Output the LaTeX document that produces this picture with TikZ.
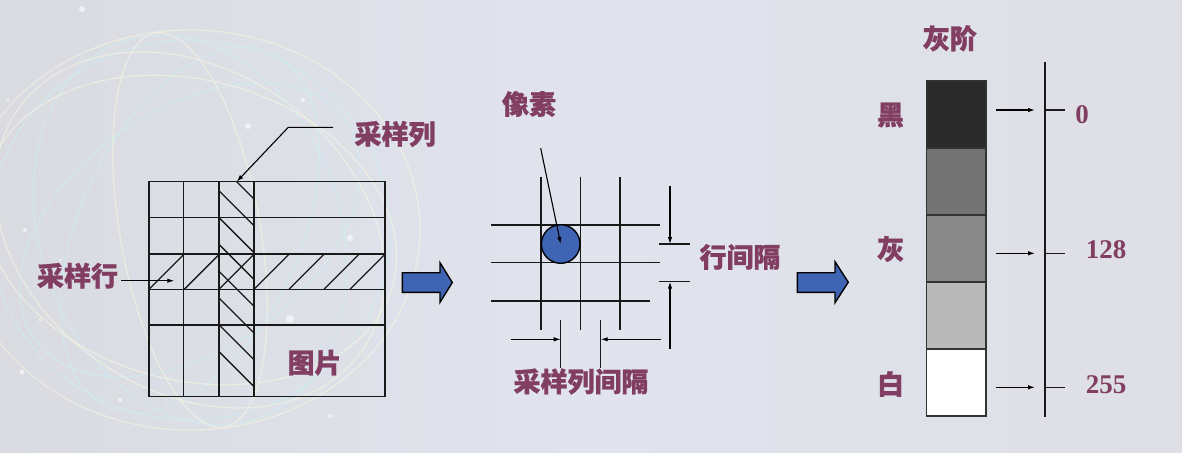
\documentclass[tikz,border=0pt]{standalone}
\usepackage{fontspec}
\usetikzlibrary{arrows.meta}
\newfontfamily\cjk{Noto Sans CJK SC}[BoldFeatures={FakeBold=0.8}]
\newfontfamily\numfont{Liberation Serif}
\definecolor{labelcol}{HTML}{823E62}
\definecolor{arrowblue}{HTML}{3F64B4}
\definecolor{bgleft}{HTML}{D9DBE1}
\definecolor{bgmid}{HTML}{E1E4ED}
\definecolor{bgright}{HTML}{DEDFE5}
\definecolor{decocyan}{HTML}{CDEFF2}
\definecolor{decocream}{HTML}{F6F6E0}
\definecolor{g0}{HTML}{2A2A2A}
\definecolor{g1}{HTML}{737373}
\definecolor{g2}{HTML}{8A8A8A}
\definecolor{g3}{HTML}{B9B9B9}
\definecolor{g4}{HTML}{FFFFFF}
\begin{document}
\begin{tikzpicture}[x=1pt,y=-1pt,
  lbl/.style={text=labelcol, font=\cjk\bfseries\fontsize{27}{30}\selectfont, inner sep=0pt},
  num/.style={text=labelcol, font=\numfont\bfseries\fontsize{27}{30}\selectfont, inner sep=0pt},
  gridline/.style={line width=1.5pt, draw=black!90},
  hatch/.style={line width=1.3pt, draw=black!90},
  ptr/.style={line width=1.1pt, -{Latex[length=7pt,width=4.5pt]}},
  bluearrow/.style={fill=arrowblue, draw=black, line width=1.4pt, line join=miter},
  cell/.style={draw=black!80, line width=1.5pt},
  deco/.style={line width=1.2pt, opacity=0.6},
]
\useasboundingbox (0,0) rectangle (1182,452);

% background
\shade[left color=bgleft, right color=bgright, middle color=bgmid] (0,0) rectangle (1182,452);
\begin{scope}
  \clip (0,0) rectangle (1182,452);
  \foreach \rx/\ry/\rot/\c in {200/190/0/decocyan, 150/200/20/decocyan, 110/195/-25/decocyan,
      190/120/35/decocyan, 210/150/-15/decocream, 160/210/55/decocream, 70/200/10/decocream,
      230/200/0/decocream}
    \draw[deco, draw=\c] (190,230) ellipse[x radius=\rx pt, y radius=\ry pt, rotate=\rot];
  \foreach \px/\py/\s in {82/9/3, 8/100/1.5, 25/230/2, 22/372/2.5, 60/260/1.5, 248/126/3,
      303/100/2, 350/238/3, 290/319/4, 40/320/1.5, 120/400/2, 330/416/2}
    \fill[white, opacity=0.6] (\px,\py) circle[radius=\s pt];
\end{scope}

% ---------- picture with sampling rows and columns ----------
\draw[gridline] (149,181.7) rectangle (385,396.7);
\foreach \x in {183.3,219,254} \draw[gridline] (\x,181.7) -- (\x,396.7);
\foreach \y in {217.7,254,289.3,325} \draw[gridline] (149,\y) -- (385,\y);
% hatched sampling column
\begin{scope}
  \clip (219,181.7) rectangle (254,396.7);
  \foreach \k in {0,...,7} \draw[hatch] (219,164+26.8*\k) -- (254,199+26.8*\k);
\end{scope}
% hatched sampling row
\foreach \x in {149,184.3,219,254,289,324,350} \draw[hatch] (\x,289.3) -- (\x+35,254.3);

\node[lbl] (colLabel) at (395,134) {采样列};
\coordinate (colStart) at (333,127.3);
\coordinate (colBend) at (288.3,127.3);
\coordinate (colTip) at (236.7,181.7);
\draw[ptr] (colStart) -- (colBend) -- (colTip);

\node[lbl] (rowLabel) at (77.5,275.7) {采样行};
\coordinate (rowTip) at (174.3,280.7);
\draw[ptr] ([xshift=3pt]rowLabel.east |- rowTip) -- (rowTip);

\node[lbl] (picLabel) at (314.5,362.7) {图片};

% first blue arrow
\draw[bluearrow] (402.3,272.7) -- (440,272.7) -- (440,262.7) -- (452.3,282.5)
  -- (440,302.3) -- (440,292.3) -- (402.3,292.3) -- cycle;

% ---------- pixel grid ----------
\foreach \x in {541,580.7,620} \draw[gridline] (\x,176.7) -- (\x,330);
\draw[gridline] (491,225) -- (660,225);
\draw[gridline] (491,262.7) -- (660,262.7);
\draw[gridline] (491,301) -- (650,301);
\node[circle, fill=arrowblue, draw=black, line width=1.4pt, minimum size=38.6pt, inner sep=0pt]
  (pixel) at (560.7,244) {};
\node[lbl] (pixLabel) at (529,104) {像素};
\coordinate (pixStart) at (540.7,148.3);
\draw[ptr] (pixStart) -- (pixel.center);

% row spacing
\coordinate (rsTop) at (670,244);
\coordinate (rsBot) at (670,281.7);
\draw[gridline] (659,244) -- (690,244);
\draw[gridline] (659,281.7) -- (690,281.7);
\coordinate (rsA) at (670,186);
\coordinate (rsB) at (670,349);
\draw[ptr] (rsA) -- (rsTop);
\draw[ptr] (rsB) -- (rsBot);
\node[lbl] (rowGap) at (740,257) {行间隔};

% column spacing
\coordinate (csL) at (560.7,339.3);
\coordinate (csR) at (600.7,339.3);
\draw[gridline] (560.7,320) -- (560.7,368);
\draw[gridline] (600.7,320) -- (600.7,368);
\coordinate (csA) at (510.7,339.3);
\coordinate (csB) at (660.7,339.3);
\draw[ptr] (csA) -- (csL);
\draw[ptr] (csB) -- (csR);
\node[lbl] (colGap) at (581,381.5) {采样列间隔};

% second blue arrow
\draw[bluearrow] (797.3,272.7) -- (835,272.7) -- (835,261.7) -- (848.3,282.2)
  -- (835,302.7) -- (835,292.3) -- (797.3,292.3) -- cycle;

% ---------- grey scale ----------
\node[lbl] (scaleTitle) at (949.7,38.3) {灰阶};
\foreach \i/\c in {0/g0,1/g1,2/g2,3/g3,4/g4}
  \draw[cell, fill=\c] (926.7,81+67*\i) rectangle (986,148+67*\i);
\draw[gridline] (1045,61.7) -- (1045,416.7);
\foreach \y in {110,253.3,387.3} {
  \draw[gridline] (1045,\y) -- (1065,\y);
  \draw[ptr] (996,\y) -- (1035,\y);
}
\node[lbl] (black) at (890.5,115) {黑};
\node[lbl] (grey) at (890.5,249) {灰};
\node[lbl] (white) at (890.5,384) {白};
\node[num] (v0) at (1082,114.7) {0};
\node[num] (v128) at (1106,250) {128};
\node[num] (v255) at (1106,384.7) {255};
\end{tikzpicture}
\end{document}
